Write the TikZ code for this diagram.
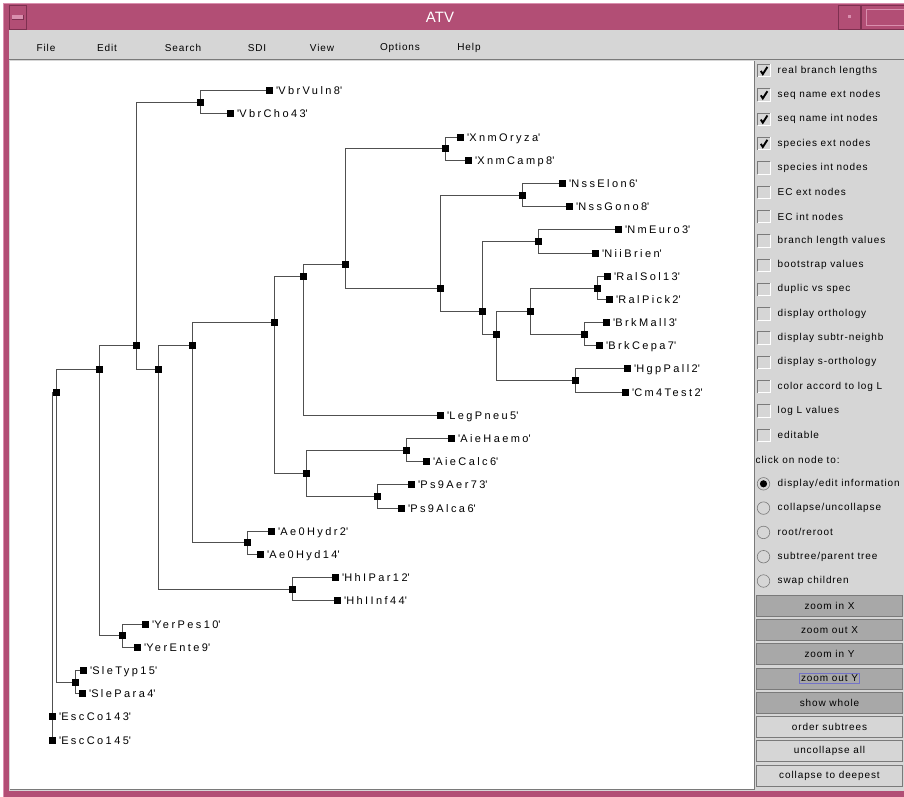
\documentclass[tikz,border=0pt]{standalone}
\usepackage{fontspec}
\setmainfont{Liberation Sans}
\newfontfamily\treefont[LetterSpace=22]{Liberation Sans}
\newfontfamily\uifont[LetterSpace=9]{Liberation Sans}

\definecolor{framepink}{HTML}{B24E75}
\definecolor{framedark}{HTML}{7E3050}
\definecolor{framelight}{HTML}{D98FAE}
\definecolor{uigray}{HTML}{D6D6D6}
\definecolor{btngray}{HTML}{A8A8A8}
\definecolor{shadowgray}{HTML}{7A7A7A}
\definecolor{edgegray}{HTML}{505050}
\definecolor{focusblue}{HTML}{7373C8}

\pgfdeclarelayer{chrome}
\pgfdeclarelayer{edges}
\pgfsetlayers{chrome,edges,main}

\tikzset{
  sq/.style={rectangle, fill=black, inner sep=0pt, minimum size=6.5pt},
  tlabel/.style={anchor=base west, inner sep=0pt, font=\treefont\fontsize{11}{13}\selectfont},
  branch/.style={draw=edgegray, line width=1.4pt},
  ptext/.style={anchor=west, inner sep=0pt, font=\uifont\fontsize{10}{12}\selectfont},
  menuitem/.style={inner sep=0pt, font=\uifont\fontsize{10}{12}\selectfont},
  chk/.style={rectangle, inner sep=0pt, minimum width=12pt, minimum height=12pt, fill=uigray},
  radio/.style={circle, inner sep=0pt, minimum size=12.5pt, fill=uigray, draw=shadowgray, line width=0.6pt},
  btnbox/.style={rectangle, inner sep=0pt, minimum width=146pt, minimum height=21pt, draw=shadowgray, line width=0.8pt, font=\uifont\fontsize{10}{12}\selectfont},
}

% a leaf: square node plus its quoted name
\newcommand\leaf[4]{%
  \node[sq] (#1) at (#2,#3) {};
  \node[tlabel] (#1-name) at ([shift={(3,4)}]#1.east) {\textquotesingle#4\textquotesingle};
}
% an option row with a check box
\newcommand\optrow[4]{%
  \node[chk] (#1) at (764,#2) {};
  \draw[shadowgray, line width=0.8pt] (#1.south west) |- (#1.north east);
  \draw[white, line width=0.8pt] (#1.south west) -| (#1.north east);
  \ifnum#4=1
    \draw[black, line width=1.9pt] ([shift={(-3.2,0.3)}]#1.center) -- ([shift={(-1.2,3.4)}]#1.center) -- ([shift={(3.4,-3.8)}]#1.center);
  \fi
  \node[ptext] at (777.5,#2) {#3};
}
\newcommand\radiorow[4]{%
  \node[radio] (#1) at (763.5,#2) {};
  \ifnum#4=1 \fill[black] (#1.center) circle (3.6pt); \fi
  \node[ptext] at (777.5,#2) {#3};
}

\begin{document}
\begin{tikzpicture}[x=1pt,y=-1pt]
\useasboundingbox (0,0) rectangle (904,797);

\begin{pgfonlayer}{chrome}
  % window frame and title bar
  \fill[white] (0,0) rectangle (904,797);
  \fill[framepink] (3,3) rectangle (904,797);
  \draw[framelight, line width=0.8pt] (3.5,797) -- (3.5,3.5) -- (904,3.5);
  \node[text=white, inner sep=0pt, font=\fontsize{15}{17}\selectfont] (title) at (440,17) {ATV};
  % title-bar buttons
  \draw[framedark, line width=0.8pt] (9,5.5) rectangle (26,29);
  \fill[framelight] (12,15) rectangle (23,19);
  \draw[framedark, line width=0.6pt] (12,19) -- (23,19) -- (23,15);
  \draw[framedark, line width=0.8pt] (838,5.5) rectangle (860,29);
  \fill[framelight] (847.5,15.5) rectangle (850.5,18.5);
  \draw[framedark, line width=0.8pt] (861,5.5) rectangle (905,29);
  \draw[framelight, line width=0.8pt] (866,9) rectangle (905,25);
  % window body, menu bar
  \fill[uigray] (9,30) rectangle (904,791);
  \draw[shadowgray, line width=1pt] (9,59.5) -- (904,59.5);
  % drawing area
  \fill[white] (10,61) rectangle (754,789);
  \draw[shadowgray, line width=1pt] (754.5,61) -- (754.5,789.5) -- (10,789.5);
\end{pgfonlayer}

% menu bar
\node[menuitem] (m-file) at (46,48) {File};
\node[menuitem] (m-edit) at (107,48) {Edit};
\node[menuitem] (m-search) at (183,48) {Search};
\node[menuitem] (m-sdi) at (257,48) {SDI};
\node[menuitem] (m-view) at (322,48) {View};
\node[menuitem] (m-options) at (400,48) {Options};
\node[menuitem] (m-help) at (469,48) {Help};

% ---------------- tree ----------------
% internal nodes
\coordinate (root) at (52.5,415.5);
\node[sq] (rp)   at (56.5,392.5) {};
\node[sq] (na)   at (99.5,369.5) {};
\node[sq] (nb)   at (136.5,345.5) {};
\node[sq] (nvbr) at (200.5,102.5) {};
\node[sq] (nc)   at (158.5,369.5) {};
\node[sq] (nd)   at (192.5,345.5) {};
\node[sq] (ne)   at (274.5,322.5) {};
\node[sq] (nf)   at (303.5,276.5) {};
\node[sq] (nh)   at (345.5,264.5) {};
\node[sq] (nxnm) at (445.5,148.5) {};
\node[sq] (ni)   at (440.5,288.5) {};
\node[sq] (nnss) at (522.5,195.5) {};
\node[sq] (nj)   at (482.5,311.5) {};
\node[sq] (nnm)  at (538.5,241.5) {};
\node[sq] (nk)   at (496.5,334.5) {};
\node[sq] (nl)   at (530.5,311.5) {};
\node[sq] (nral) at (597.5,288.5) {};
\node[sq] (nbrk) at (584.5,334.5) {};
\node[sq] (nhgp) at (575.5,380.5) {};
\node[sq] (ng)   at (306.5,473.5) {};
\node[sq] (naie) at (406.5,450.5) {};
\node[sq] (nps)  at (377.5,496.5) {};
\node[sq] (nae)  at (247.5,542.5) {};
\node[sq] (nhhi) at (292.5,589.5) {};
\node[sq] (nyer) at (122.5,635.5) {};
\node[sq] (nsle) at (75.5,682.5) {};

% leaves
\leaf{l0}{269.5}{90.5}{VbrVuln8}
\leaf{l1}{230.5}{113.5}{VbrCho43}
\leaf{l2}{460.5}{137.5}{XnmOryza}
\leaf{l3}{468.5}{160.5}{XnmCamp8}
\leaf{l4}{562.5}{183.5}{NssElon6}
\leaf{l5}{569.5}{206.5}{NssGono8}
\leaf{l6}{618.5}{229.5}{NmEuro3}
\leaf{l7}{595.5}{253.5}{NiiBrien}
\leaf{l8}{607.5}{276.5}{RalSol13}
\leaf{l9}{609.5}{299.5}{RalPick2}
\leaf{l10}{606.5}{322.5}{BrkMall3}
\leaf{l11}{599.5}{345.5}{BrkCepa7}
\leaf{l12}{627.5}{368.5}{HgpPall2}
\leaf{l13}{625.5}{392.5}{Cm4Test2}
\leaf{l14}{440.5}{415.5}{LegPneu5}
\leaf{l15}{451.5}{438.5}{AieHaemo}
\leaf{l16}{426.5}{461.5}{AieCalc6}
\leaf{l17}{411.5}{484.5}{Ps9Aer73}
\leaf{l18}{401.5}{508.5}{Ps9Alca6}
\leaf{l19}{271.5}{531.5}{Ae0Hydr2}
\leaf{l20}{260.5}{554.5}{Ae0Hyd14}
\leaf{l21}{335.5}{577.5}{HhIPar12}
\leaf{l22}{337.5}{600.5}{HhIInf44}
\leaf{l23}{145.5}{624.5}{YerPes10}
\leaf{l24}{137.5}{647.5}{YerEnte9}
\leaf{l25}{83.5}{670.5}{SleTyp15}
\leaf{l26}{82.5}{693.5}{SlePara4}
\leaf{l27}{52.5}{716.5}{EscCo143}
\leaf{l28}{52.5}{740.5}{EscCo145}

% branches
\begin{pgfonlayer}{edges}
\path[branch] (root) |- (rp);
\path[branch] (root) |- (l27);
\path[branch] (root) |- (l28);
\path[branch] (rp) |- (na);   \path[branch] (rp) |- (nsle);
\path[branch] (na) |- (nb);   \path[branch] (na) |- (nyer);
\path[branch] (nb) |- (nvbr); \path[branch] (nb) |- (nc);
\path[branch] (nvbr) |- (l0); \path[branch] (nvbr) |- (l1);
\path[branch] (nc) |- (nd);   \path[branch] (nc) |- (nhhi);
\path[branch] (nd) |- (ne);   \path[branch] (nd) |- (nae);
\path[branch] (ne) |- (nf);   \path[branch] (ne) |- (ng);
\path[branch] (nf) |- (nh);   \path[branch] (nf) |- (l14);
\path[branch] (nh) |- (nxnm); \path[branch] (nh) |- (ni);
\path[branch] (nxnm) |- (l2); \path[branch] (nxnm) |- (l3);
\path[branch] (ni) |- (nnss); \path[branch] (ni) |- (nj);
\path[branch] (nnss) |- (l4); \path[branch] (nnss) |- (l5);
\path[branch] (nj) |- (nnm);  \path[branch] (nj) |- (nk);
\path[branch] (nnm) |- (l6);  \path[branch] (nnm) |- (l7);
\path[branch] (nk) |- (nl);   \path[branch] (nk) |- (nhgp);
\path[branch] (nl) |- (nral); \path[branch] (nl) |- (nbrk);
\path[branch] (nral) |- (l8); \path[branch] (nral) |- (l9);
\path[branch] (nbrk) |- (l10); \path[branch] (nbrk) |- (l11);
\path[branch] (nhgp) |- (l12); \path[branch] (nhgp) |- (l13);
\path[branch] (ng) |- (naie); \path[branch] (ng) |- (nps);
\path[branch] (naie) |- (l15); \path[branch] (naie) |- (l16);
\path[branch] (nps) |- (l17); \path[branch] (nps) |- (l18);
\path[branch] (nae) |- (l19); \path[branch] (nae) |- (l20);
\path[branch] (nhhi) |- (l21); \path[branch] (nhhi) |- (l22);
\path[branch] (nyer) |- (l23); \path[branch] (nyer) |- (l24);
\path[branch] (nsle) |- (l25); \path[branch] (nsle) |- (l26);
\end{pgfonlayer}

% ---------------- option panel ----------------
\optrow{o1}{70.7}{real branch lengths}{1}
\optrow{o2}{95.0}{seq name ext nodes}{1}
\optrow{o3}{119.3}{seq name int nodes}{1}
\optrow{o4}{143.6}{species ext nodes}{1}
\optrow{o5}{167.9}{species int nodes}{0}
\optrow{o6}{192.2}{EC ext nodes}{0}
\optrow{o7}{216.5}{EC int nodes}{0}
\optrow{o8}{240.8}{branch length values}{0}
\optrow{o9}{265.1}{bootstrap values}{0}
\optrow{o10}{289.4}{duplic vs spec}{0}
\optrow{o11}{313.7}{display orthology}{0}
\optrow{o12}{338.0}{display subtr-neighb}{0}
\optrow{o13}{362.3}{display s-orthology}{0}
\optrow{o14}{386.6}{color accord to log L}{0}
\optrow{o15}{410.9}{log L values}{0}
\optrow{o16}{435.2}{editable}{0}
\node[ptext] (clickhdr) at (755.5,459.5) {click on node to:};
\radiorow{r1}{483.8}{display/edit information}{1}
\radiorow{r2}{508.1}{collapse/uncollapse}{0}
\radiorow{r3}{532.4}{root/reroot}{0}
\radiorow{r4}{556.7}{subtree/parent tree}{0}
\radiorow{r5}{581.0}{swap children}{0}

\node[btnbox, fill=btngray] (b1) at (829.5,605.5) {zoom in X};
\node[btnbox, fill=btngray] (b2) at (829.5,629.8) {zoom out X};
\node[btnbox, fill=btngray] (b3) at (829.5,654.1) {zoom in Y};
\node[btnbox, fill=btngray] (b4) at (829.5,678.4) {};
\node[inner sep=0pt, font=\uifont\fontsize{10}{12}\selectfont] (b4-text) at (b4) {zoom out Y};
\draw[focusblue, line width=0.7pt] ([shift={(-2,-1.5)}]b4-text.north west) rectangle ([shift={(1,1.5)}]b4-text.south east);
\node[btnbox, fill=btngray] (b5) at (829.5,702.7) {show whole};
\node[btnbox, fill=uigray] (b6) at (829.5,727.0) {order subtrees};
\node[btnbox, fill=uigray] (b7) at (829.5,751.3) {uncollapse all};
\node[btnbox, fill=uigray] (b8) at (829.5,775.6) {collapse to deepest};
\end{tikzpicture}
\end{document}
